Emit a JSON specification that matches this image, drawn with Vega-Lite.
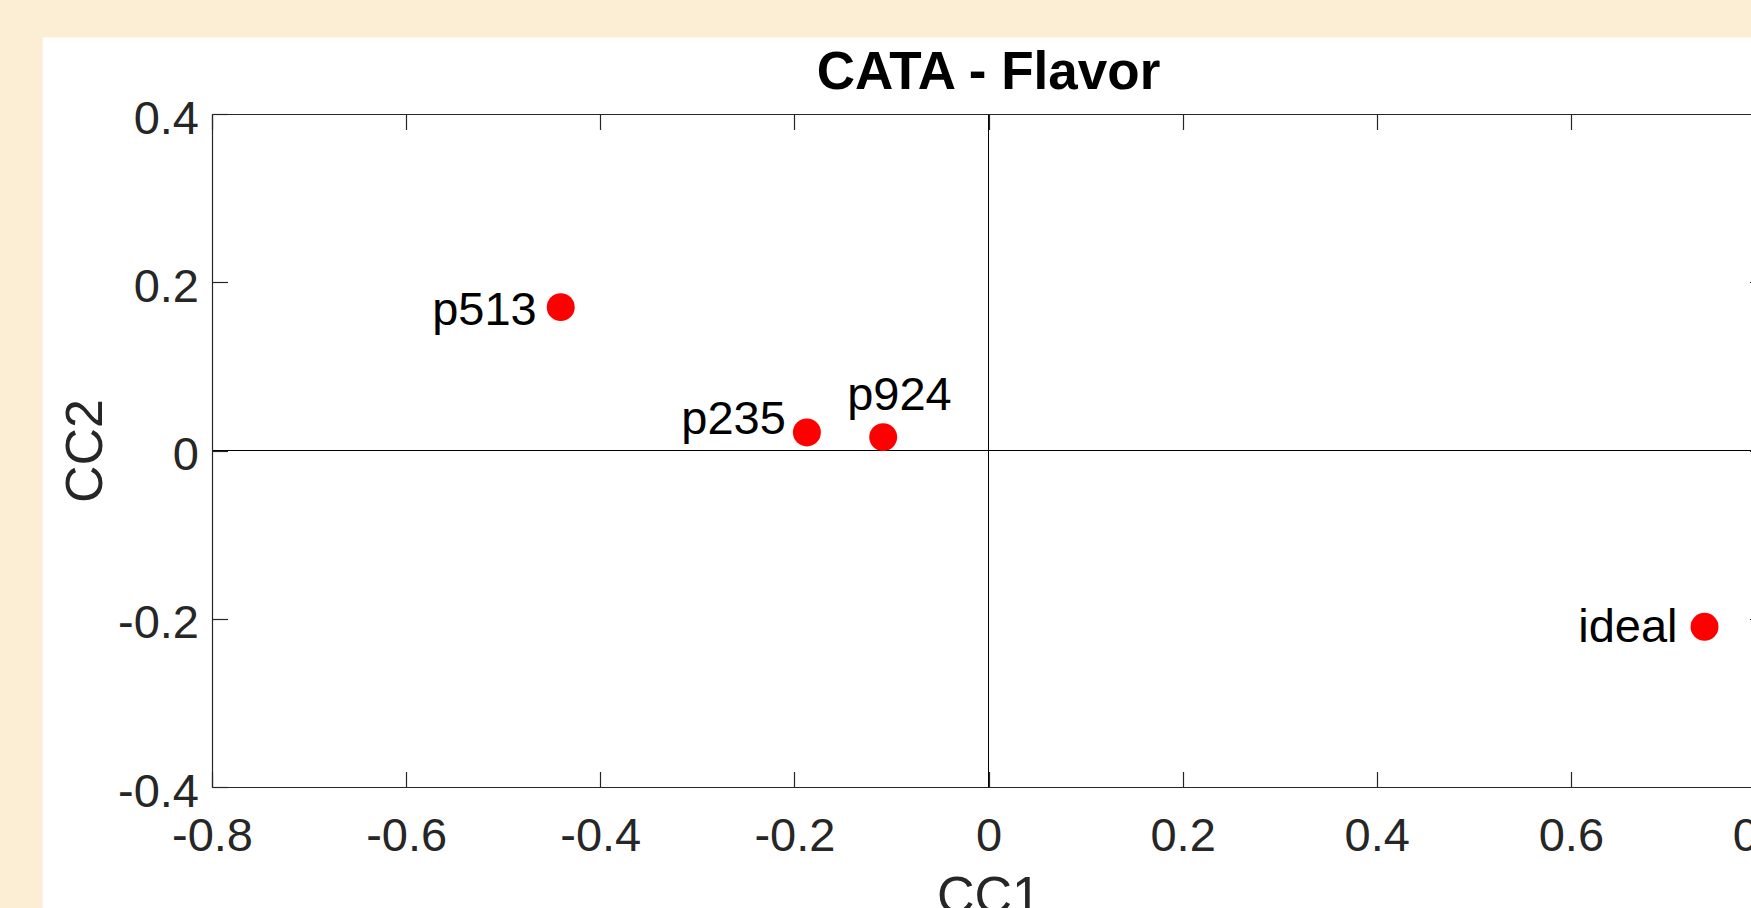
{
  "$schema": "https://vega.github.io/schema/vega-lite/v6.json",
  "width": 1553,
  "height": 673,
  "autosize": {"type": "none"},
  "padding": {"left": 212, "top": 114, "right": -14, "bottom": 121},
  "background": "#FCEED4",
  "config": {
    "view": {"stroke": null},
    "font": "Liberation Sans",
    "axis": {"zindex": 1, "grid": false}
  },
  "title": {
    "text": "CATA - Flavor",
    "fontSize": 53,
    "fontWeight": "bold",
    "font": "Liberation Sans",
    "color": "#000000",
    "anchor": "middle",
    "frame": "group",
    "baseline": "alphabetic",
    "offset": -104.5,
    "zindex": 1
  },
  "data": {
    "values": [
      {"label": "p513", "CC1": -0.4407, "CC2": 0.1704},
      {"label": "p235", "CC1": -0.1871, "CC2": 0.0214},
      {"label": "p924", "CC1": -0.1085, "CC2": 0.0159},
      {"label": "ideal", "CC1": 0.7377, "CC2": -0.2096}
    ]
  },
  "layer": [
    {
      "data": {"values": [{}]},
      "mark": {"type": "rect", "color": "#FFFFFF", "opacity": 1},
      "encoding": {
        "x": {"datum": -0.9745, "type": "quantitative", "scale": {"domain": [-0.8, 0.8], "nice": false, "zero": false}, "axis": null},
        "x2": {"datum": 1.0},
        "y": {"datum": 0.4908, "type": "quantitative", "scale": {"domain": [-0.4, 0.4], "nice": false, "zero": false}, "axis": null},
        "y2": {"datum": -0.7}
      }
    },
    {
      "data": {"values": [{}]},
      "mark": {"type": "rule", "color": "#000000", "strokeWidth": 1},
      "encoding": {
        "x": {
          "datum": 0, "type": "quantitative",
          "scale": {"domain": [-0.8, 0.8], "nice": false, "zero": false},
          "axis": {
            "orient": "top",
            "values": [-0.8, -0.6, -0.4, -0.2, 0, 0.2, 0.4, 0.6, 0.8],
            "labels": false,
            "title": null,
            "ticks": true,
            "tickSize": -15.5,
            "tickColor": "#262626",
            "tickWidth": 1.2,
            "domain": true,
            "domainColor": "#262626",
            "domainWidth": 1.2,
            "zindex": 1
          }
        }
      }
    },
    {
      "data": {"values": [{}]},
      "mark": {"type": "rule", "color": "#000000", "strokeWidth": 1},
      "encoding": {
        "y": {
          "datum": 0, "type": "quantitative",
          "scale": {"domain": [-0.4, 0.4], "nice": false, "zero": false},
          "axis": {
            "orient": "right",
            "values": [-0.4, -0.2, 0, 0.2, 0.4],
            "labels": false,
            "title": null,
            "ticks": true,
            "tickSize": -15.5,
            "tickColor": "#262626",
            "tickWidth": 1.2,
            "domain": true,
            "domainColor": "#262626",
            "domainWidth": 1.2,
            "zindex": 1
          }
        }
      }
    },
    {
      "mark": {"type": "circle", "size": 780, "color": "#FF0000", "opacity": 1},
      "encoding": {
        "x": {
          "field": "CC1", "type": "quantitative",
          "scale": {"domain": [-0.8, 0.8], "nice": false, "zero": false},
          "axis": {
            "orient": "bottom",
            "values": [-0.8, -0.6, -0.4, -0.2, 0, 0.2, 0.4, 0.6, 0.8],
            "labelExpr": "'' + datum.value",
            "labelFontSize": 47,
            "labelFont": "Liberation Sans",
            "labelColor": "#262626",
            "labelPadding": 42,
            "labelFlush": false,
            "labelOverlap": false,
            "labelBound": false,
            "ticks": true,
            "tickSize": -15.5,
            "tickColor": "#262626",
            "tickWidth": 1.2,
            "domain": true,
            "domainColor": "#262626",
            "domainWidth": 1.2,
            "title": "CC1",
            "titleFont": "Liberation Sans",
            "titleFontSize": 52,
            "titleFontWeight": "normal",
            "titleColor": "#262626",
            "titlePadding": 12,
            "zindex": 1
          }
        },
        "y": {
          "field": "CC2", "type": "quantitative",
          "scale": {"domain": [-0.4, 0.4], "nice": false, "zero": false},
          "axis": {
            "orient": "left",
            "values": [-0.4, -0.2, 0, 0.2, 0.4],
            "labelExpr": "'' + datum.value",
            "labelFontSize": 47,
            "labelFont": "Liberation Sans",
            "labelColor": "#262626",
            "labelPadding": 29,
            "labelOffset": 5,
            "labelFlush": false,
            "labelOverlap": false,
            "labelBound": false,
            "ticks": true,
            "tickSize": -15.5,
            "tickColor": "#262626",
            "tickWidth": 1.2,
            "domain": true,
            "domainColor": "#262626",
            "domainWidth": 1.2,
            "title": "CC2",
            "titleFont": "Liberation Sans",
            "titleFontSize": 52,
            "titleFontWeight": "normal",
            "titleColor": "#262626",
            "titlePadding": 5,
            "zindex": 1
          }
        }
      }
    },
    {
      "transform": [{"filter": "datum.label === 'p513'"}],
      "mark": {"type": "text", "align": "right", "baseline": "alphabetic", "dx": -24, "dy": 18, "fontSize": 47, "font": "Liberation Sans", "color": "#000000"},
      "encoding": {
        "x": {"field": "CC1", "type": "quantitative", "scale": {"domain": [-0.8, 0.8], "nice": false, "zero": false}, "axis": null},
        "y": {"field": "CC2", "type": "quantitative", "scale": {"domain": [-0.4, 0.4], "nice": false, "zero": false}, "axis": null},
        "text": {"field": "label"}
      }
    },
    {
      "transform": [{"filter": "datum.label === 'p235'"}],
      "mark": {"type": "text", "align": "right", "baseline": "alphabetic", "dx": -21, "dy": 2, "fontSize": 47, "font": "Liberation Sans", "color": "#000000"},
      "encoding": {
        "x": {"field": "CC1", "type": "quantitative", "scale": {"domain": [-0.8, 0.8], "nice": false, "zero": false}, "axis": null},
        "y": {"field": "CC2", "type": "quantitative", "scale": {"domain": [-0.4, 0.4], "nice": false, "zero": false}, "axis": null},
        "text": {"field": "label"}
      }
    },
    {
      "transform": [{"filter": "datum.label === 'p924'"}],
      "mark": {"type": "text", "align": "left", "baseline": "alphabetic", "dx": -36, "dy": -27, "fontSize": 47, "font": "Liberation Sans", "color": "#000000"},
      "encoding": {
        "x": {"field": "CC1", "type": "quantitative", "scale": {"domain": [-0.8, 0.8], "nice": false, "zero": false}, "axis": null},
        "y": {"field": "CC2", "type": "quantitative", "scale": {"domain": [-0.4, 0.4], "nice": false, "zero": false}, "axis": null},
        "text": {"field": "label"}
      }
    },
    {
      "transform": [{"filter": "datum.label === 'ideal'"}],
      "mark": {"type": "text", "align": "right", "baseline": "alphabetic", "dx": -27, "dy": 15, "fontSize": 47, "font": "Liberation Sans", "color": "#000000"},
      "encoding": {
        "x": {"field": "CC1", "type": "quantitative", "scale": {"domain": [-0.8, 0.8], "nice": false, "zero": false}, "axis": null},
        "y": {"field": "CC2", "type": "quantitative", "scale": {"domain": [-0.4, 0.4], "nice": false, "zero": false}, "axis": null},
        "text": {"field": "label"}
      }
    }
  ],
  "resolve": {"axis": {"x": "independent", "y": "independent"}}
}
